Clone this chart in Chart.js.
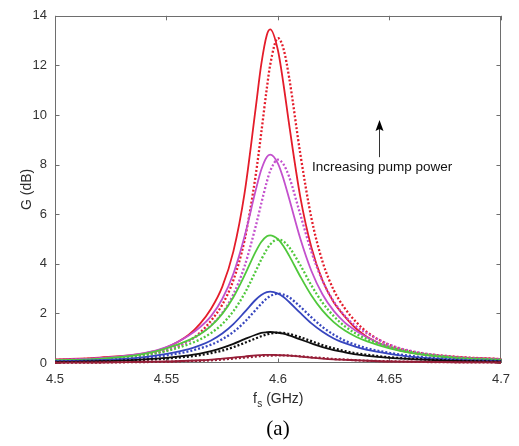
<!DOCTYPE html>
<html><head><meta charset="utf-8">
<script src="https://cdn.jsdelivr.net/npm/chart.js@4"></script>
<style>html,body{margin:0;padding:0;background:#fff}#wrap{width:519px;height:446px}</style>
</head><body><div id="wrap"><canvas id="c" width="519" height="446"></canvas></div>
<script>
// Signal frequency (GHz)
const freq = [4.5,4.52,4.54,4.55,4.56,4.565,4.57,4.575,4.58,4.585,4.59,4.5925,4.595,4.5965,4.6,4.6025,4.605,4.61,4.615,4.62,4.625,4.63,4.635,4.64,4.65,4.66,4.68,4.7];
// Gain G (dB); solid = measured-style curves, dotted = companion curves
const redSolid    = [0.14,0.22,0.39,0.63,1.14,1.58,2.19,3.07,4.50,6.84,10.28,12.04,13.23,13.45,12.60,11.22,9.62,6.70,4.66,3.32,2.45,1.87,1.39,1.05,0.63,0.41,0.24,0.16];
const redDotted   = [0.12,0.19,0.34,0.51,0.89,1.22,1.71,2.35,3.34,4.95,7.57,9.28,11.08,12.02,13.1,12.66,11.51,8.44,5.84,4.08,2.94,2.20,1.66,1.24,0.73,0.46,0.25,0.16];
const magSolid    = [0.13,0.20,0.40,0.64,1.11,1.44,1.89,2.58,3.60,5.10,6.96,7.79,8.31,8.4,8.04,7.41,6.63,5.02,3.71,2.76,2.10,1.63,1.30,1.03,0.64,0.42,0.22,0.14];
const magDotted   = [0.12,0.18,0.33,0.53,0.89,1.17,1.52,2.02,2.77,3.90,5.51,6.43,7.31,7.74,8.2,8.01,7.51,5.99,4.48,3.31,2.48,1.90,1.48,1.19,0.74,0.48,0.24,0.15];
const greenSolid  = [0.11,0.17,0.37,0.59,0.92,1.16,1.50,1.98,2.65,3.53,4.49,4.88,5.11,5.15,4.99,4.71,4.33,3.49,2.72,2.11,1.65,1.31,1.06,0.87,0.59,0.40,0.20,0.12];
const greenDotted = [0.10,0.15,0.31,0.48,0.76,0.95,1.21,1.57,2.09,2.80,3.70,4.17,4.58,4.78,4.98,4.90,4.67,3.95,3.13,2.43,1.89,1.48,1.18,0.96,0.65,0.44,0.22,0.13];
const blueSolid   = [0.07,0.11,0.24,0.37,0.56,0.71,0.91,1.19,1.57,2.05,2.55,2.74,2.86,2.88,2.80,2.66,2.46,2.02,1.60,1.26,0.99,0.80,0.65,0.53,0.37,0.25,0.13,0.08];
const blueDotted  = [0.06,0.10,0.20,0.31,0.47,0.59,0.74,0.96,1.25,1.65,2.14,2.39,2.60,2.70,2.8,2.76,2.65,2.27,1.84,1.45,1.14,0.90,0.73,0.59,0.41,0.28,0.14,0.08];
const blackSolid  = [0.04,0.07,0.15,0.21,0.31,0.38,0.48,0.61,0.77,0.96,1.14,1.21,1.24,1.25,1.22,1.18,1.11,0.95,0.79,0.64,0.52,0.43,0.35,0.29,0.21,0.16,0.08,0.05];
const blackDotted = [0.04,0.06,0.13,0.18,0.26,0.32,0.40,0.50,0.64,0.81,0.99,1.08,1.15,1.19,1.22,1.21,1.17,1.04,0.88,0.72,0.59,0.48,0.39,0.33,0.23,0.17,0.09,0.05];
const darkSolid   = [0.01,0.02,0.05,0.06,0.09,0.11,0.14,0.18,0.22,0.26,0.31,0.32,0.33,0.33,0.32,0.31,0.30,0.26,0.22,0.18,0.15,0.13,0.11,0.09,0.06,0.05,0.03,0.02];
const darkDotted  = [0.01,0.02,0.04,0.05,0.08,0.09,0.11,0.14,0.18,0.22,0.26,0.28,0.30,0.30,0.31,0.31,0.30,0.27,0.23,0.20,0.16,0.14,0.11,0.09,0.07,0.05,0.03,0.02];
// Axis ticks
const xTicks = [4.5,4.55,4.6,4.65,4.7];
const yTicks = [0,2,4,6,8,10,12,14];
const xTitleMain = 'f', xTitleSub = 's', xTitleRest = ' (GHz)';
const yTitle = 'G (dB)';
const panelLabel = '(a)';
const annotationText = 'Increasing pump power';

const series = [
  {d: darkSolid,   c: 'rgb(150,30,55)',  dash: false},
  {d: darkDotted,  c: 'rgb(150,30,55)',  dash: true},
  {d: blackSolid,  c: 'rgb(15,15,15)',   dash: false},
  {d: blackDotted, c: 'rgb(15,15,15)',   dash: true},
  {d: blueSolid,   c: 'rgb(55,70,190)',  dash: false},
  {d: blueDotted,  c: 'rgb(55,70,190)',  dash: true},
  {d: greenSolid,  c: 'rgb(80,200,60)',  dash: false},
  {d: greenDotted, c: 'rgb(80,200,60)',  dash: true},
  {d: magSolid,    c: 'rgb(195,80,205)', dash: false},
  {d: magDotted,   c: 'rgb(195,80,205)', dash: true},
  {d: redSolid,    c: 'rgb(228,28,42)',  dash: false},
  {d: redDotted,   c: 'rgb(228,28,42)',  dash: true}
];

const datasets = series.map(s => ({
  data: freq.map((f, i) => ({x: f, y: s.d[i]})),
  borderColor: s.c,
  borderWidth: s.dash ? 2.3 : 1.8,
  borderDash: s.dash ? [2, 2] : [],
  pointRadius: 0,
  fill: false,
  cubicInterpolationMode: 'monotone',
  clip: 3
}));

const AX = '#6e6e6e';
const FONT = '"Liberation Sans", Arial, sans-serif';

const decor = {
  id: 'decor',
  beforeDatasetsDraw(chart) {
    const {ctx, chartArea: a, scales} = chart;
    ctx.save();
    ctx.strokeStyle = AX; ctx.lineWidth = 1;
    ctx.strokeRect(Math.round(a.left) + 0.5, Math.round(a.top) + 0.5, Math.round(a.right - a.left) - 1, Math.round(a.bottom - a.top) - 1);
    ctx.beginPath();
    const tl = 4.5;
    yTicks.forEach(v => {
      const y = Math.round(scales.y.getPixelForValue(v)) + 0.5;
      ctx.moveTo(a.left, y); ctx.lineTo(a.left + tl, y);
      ctx.moveTo(a.right, y); ctx.lineTo(a.right - tl, y);
    });
    xTicks.forEach(v => {
      const x = Math.round(scales.x.getPixelForValue(v)) + 0.5;
      ctx.moveTo(x, a.bottom); ctx.lineTo(x, a.bottom - tl);
      ctx.moveTo(x, a.top); ctx.lineTo(x, a.top + tl);
    });
    ctx.stroke();
    ctx.restore();
  },
  afterDraw(chart) {
    const {ctx, chartArea: a, scales} = chart;
    ctx.save();
    ctx.fillStyle = '#2b2b2b';
    // x title with subscript
    const cx = (a.left + a.right) / 2;
    ctx.font = '14px ' + FONT;
    ctx.textBaseline = 'alphabetic';
    const w1 = ctx.measureText(xTitleMain).width;
    ctx.font = '10px ' + FONT;
    const w2 = ctx.measureText(xTitleSub).width;
    ctx.font = '14px ' + FONT;
    const w3 = ctx.measureText(xTitleRest).width;
    let x0 = cx - (w1 + w2 + w3) / 2;
    const by = 403;
    ctx.textAlign = 'left';
    ctx.fillText(xTitleMain, x0, by);
    ctx.font = '10px ' + FONT;
    ctx.fillText(xTitleSub, x0 + w1 + 0.5, by + 4);
    ctx.font = '14px ' + FONT;
    ctx.fillText(xTitleRest, x0 + w1 + w2 + 0.5, by);
    // y title
    ctx.save();
    ctx.translate(27, (a.top + a.bottom) / 2);
    ctx.rotate(-Math.PI / 2);
    ctx.textAlign = 'center';
    ctx.textBaseline = 'middle';
    ctx.font = '14px ' + FONT;
    ctx.fillText(yTitle, 0, 0);
    ctx.restore();
    // panel label
    ctx.fillStyle = '#000';
    ctx.font = '21px "Liberation Serif", "Times New Roman", serif';
    ctx.textAlign = 'center';
    ctx.textBaseline = 'middle';
    ctx.fillText(panelLabel, cx, 429);
    // annotation arrow + text
    const ax = Math.round(scales.x.getPixelForValue(4.6455)) + 0.5;
    const yTip = scales.y.getPixelForValue(9.8);
    const yBase = scales.y.getPixelForValue(8.3);
    ctx.strokeStyle = '#333'; ctx.lineWidth = 1;
    ctx.beginPath(); ctx.moveTo(ax, yBase); ctx.lineTo(ax, yTip + 9); ctx.stroke();
    ctx.fillStyle = '#000';
    ctx.beginPath();
    ctx.moveTo(ax, yTip); ctx.lineTo(ax - 4, yTip + 11); ctx.lineTo(ax, yTip + 9); ctx.lineTo(ax + 4, yTip + 11); ctx.closePath(); ctx.fill();
    ctx.font = '13.5px ' + FONT;
    ctx.fillStyle = '#111';
    ctx.textAlign = 'center';
    ctx.textBaseline = 'middle';
    ctx.fillText(annotationText, scales.x.getPixelForValue(4.6467), scales.y.getPixelForValue(7.9));
    ctx.restore();
  }
};

new Chart(document.getElementById('c'), {
  type: 'line',
  data: {datasets},
  options: {
    responsive: false,
    animation: false,
    events: [],
    layout: {padding: {left: 0, right: 16, top: 12, bottom: 0}},
    plugins: {legend: {display: false}, tooltip: {enabled: false}},
    scales: {
      x: {
        type: 'linear', min: 4.5, max: 4.7,
        afterBuildTicks: s => { s.ticks = xTicks.map(v => ({value: v})); },
        afterFit: s => { s.height = 83; },
        grid: {display: false, drawTicks: false},
        border: {display: false},
        ticks: {padding: 9, color: '#333', font: {family: FONT, size: 13}, maxRotation: 0,
                callback: v => String(Number(v.toFixed(2)))}
      },
      y: {
        type: 'linear', min: 0, max: 14,
        afterBuildTicks: s => { s.ticks = yTicks.map(v => ({value: v})); },
        afterFit: s => { s.width = 55; },
        grid: {display: false, drawTicks: false},
        border: {display: false},
        ticks: {padding: 8, color: '#333', font: {family: FONT, size: 13}}
      }
    }
  },
  plugins: [decor]
});
</script>
</body></html>
